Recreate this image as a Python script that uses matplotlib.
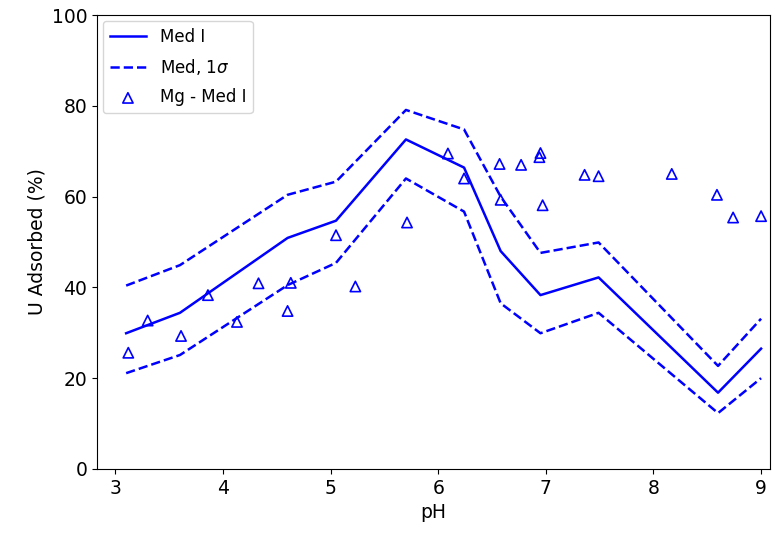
import numpy as np
import matplotlib.pyplot as plt

# model curve: pH grid and adsorbed fraction (median and 1-sigma band)
ph_model = [3.1, 3.6, 4.6, 5.05, 5.7, 6.24, 6.58, 6.95, 7.49, 8.6, 9.0]
med = [29.9, 34.4, 50.9, 54.7, 72.6, 66.4, 48.0, 38.3, 42.2, 16.8, 26.5]
med_hi = [40.4, 44.9, 60.4, 63.3, 79.1, 74.8, 60.0, 47.6, 49.9, 22.7, 33.1]
med_lo = [21.1, 25.1, 40.5, 45.4, 64.0, 56.7, 36.5, 29.9, 34.4, 12.3, 20.0]

# measured Mg - Med I points
ph_obs = [3.12, 3.30, 3.61, 3.86, 4.13, 4.33, 4.60, 4.63, 5.05, 5.23, 5.71,
          6.09, 6.24, 6.57, 6.58, 6.77, 6.94, 6.95, 6.97, 7.36, 7.49, 8.17,
          8.59, 8.74, 9.0]
u_obs = [25.6, 32.7, 29.3, 38.3, 32.4, 40.9, 34.8, 41.0, 51.5, 40.2, 54.3,
         69.5, 64.0, 67.2, 59.3, 67.0, 68.7, 69.6, 58.1, 64.8, 64.5, 65.0,
         60.4, 55.4, 55.7]

plt.rcParams['font.size'] = 13.5

fig = plt.figure(figsize=(7.83, 5.39), dpi=100)
ax = fig.add_axes([0.124, 0.13, 0.859, 0.842])

ax.plot(ph_model, med, color='b', lw=1.8, label='Med I')
ax.plot(ph_model, med_hi, color='b', lw=1.8, ls='--', label=r'Med, 1$\sigma$')
ax.plot(ph_model, med_lo, color='b', lw=1.8, ls='--')
ax.scatter(ph_obs, u_obs, marker='^', s=55, facecolors='none',
           edgecolors='b', linewidths=1.2, label='Mg - Med I')

ax.set_xlim(2.83, 9.08)
ax.set_ylim(0, 100)
ax.set_xticks([3, 4, 5, 6, 7, 8, 9])
ax.set_yticks([0, 20, 40, 60, 80, 100])
ax.set_xlabel('pH')
ax.set_ylabel('U Adsorbed (%)')
ax.legend(loc='upper left', fontsize=12, handlelength=2.2,
          labelspacing=0.68, borderaxespad=0.35)

fig.savefig('out.png', dpi=100)
